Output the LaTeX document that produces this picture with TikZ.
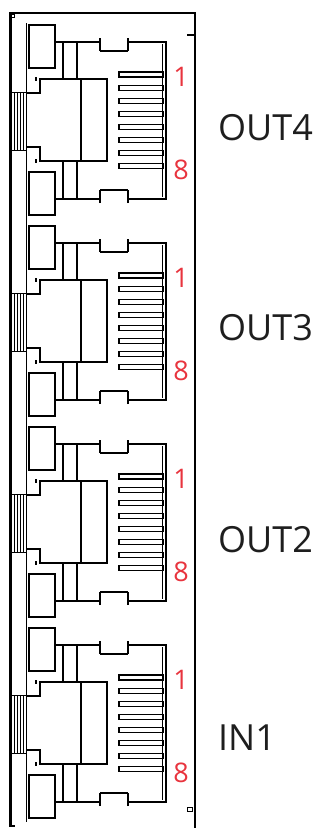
\documentclass[tikz,border=0pt]{standalone}
\usepackage{fontspec}
\setmainfont{Open Sans}
\usetikzlibrary{arrows}
\usetikzlibrary{shapes}

\definecolor{pinred}{RGB}{232,52,62}
\definecolor{labelgray}{RGB}{30,30,30}

\tikzset{
  frame/.style={line width=2pt},
  led/.style={line width=2.4pt},
  jack/.style={line width=1.3pt},
  jackside/.style={line width=2.2pt},
  pin/.style={line width=1.2pt},
  thinline/.style={line width=1pt},
  pinnum/.style={text=pinred, font=\fontsize{27}{30}\selectfont, inner sep=0pt},
  portname/.style={text=labelgray, font=\fontsize{36}{40}\selectfont, inner sep=0pt, anchor=west}
}

\begin{document}
\begin{tikzpicture}[x=1pt,y=-1pt]
        \useasboundingbox (0,0) rectangle (325,828);

        \draw[line width=3pt] (10,12.5) -- (10,826);
        \draw[frame] (9,13) -- (195,13);
        \draw[line width=1.6pt] (195,12) -- (195,828);
        \draw[line width=1pt, fill=white] (11.5,14.5) rectangle (14.5,17.5);
        \draw[frame] (187,35) -- (195,35);
        \draw[line width=1pt] (187,807) rectangle (192,811);
        \draw[frame] (9,826) -- (15,826);
        \draw[thinline] (26,23) -- (26,822);

        \foreach \k/\name/\ny in {0/OUT4/128,1/OUT3/328,2/OUT2/540,3/IN1/738}{
        \begin{scope}[shift={(0,\k*201)}]
        \draw[led] (29,25) rectangle (55,68);
        \draw[led] (29,172) rectangle (55,215);
        \draw[thinline] (10,92) -- (26,92);
        \draw[thinline] (10,150) -- (26,150);
        \foreach \t in {14,17,20,23}
                \draw[thinline] (\t,92) -- (\t,150);
        \draw[jack] (26,93) -- (40,93) -- (40,79) -- (107,79) -- (107,161) -- (40,161) -- (40,147) -- (26,147);
        \draw[jack] (36,77) -- (36,81);
        \draw[jack] (36,159) -- (36,163);
        \draw[jack] (81,79) -- (81,161);
        \draw[jack] (63,42) -- (63,79);
        \draw[jack] (77,42) -- (77,79);
        \draw[jack] (63,161) -- (63,199);
        \draw[jack] (77,161) -- (77,199);
        \draw[jack] (100,51) -- (128,51);
        \draw[jack] (100,190) -- (128,190);
        \draw[jackside] (100,38) -- (100,51);
        \draw[jackside] (128,38) -- (128,51);
        \draw[jackside] (100,203) -- (100,190);
        \draw[jackside] (128,203) -- (128,190);
        \draw[jackside] (55,42) -- (100,42);
        \draw[jackside] (55,199) -- (100,199);
        \draw[jackside] (128,42) -- (166,42) -- (166,199) -- (128,199);
        \draw[thinline] (162,44) -- (162,197);
        \foreach \p in {0,...,7}
                \draw[pin] (119,72+13.1*\p) rectangle (163,77+13.1*\p);
        \node[pinnum] (first\k) at (181,77) {1};
        \node[pinnum] (last\k) at (181,170) {8};
        \end{scope}
        \node[portname] (name\k) at (218,\ny) {\name};
        }
\end{tikzpicture}
\end{document}
